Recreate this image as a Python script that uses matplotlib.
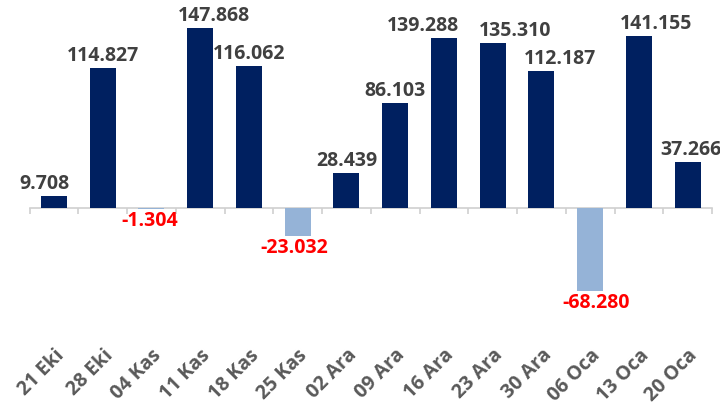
import matplotlib
matplotlib.use("Agg")
import matplotlib.pyplot as plt
import numpy as np

categories = ["21 Eki", "28 Eki", "04 Kas", "11 Kas", "18 Kas", "25 Kas", "02 Ara",
              "09 Ara", "16 Ara", "23 Ara", "30 Ara", "06 Oca", "13 Oca", "20 Oca"]
values = [9708, 114827, -1304, 147868, 116062, -23032, 28439,
          86103, 139288, 135310, 112187, -68280, 141155, 37266]
# horizontal nudges of the value labels (pixels), as placed in the original
label_dx = [-9, 0, -2, 14, 0, -3, 0, 0, -21, 22, 19, 6, 17, 3]

plt.rcParams['font.family'] = ['Open Sans', 'DejaVu Sans']

fig = plt.figure(figsize=(7.2, 4.15), dpi=100)
ax = fig.add_axes([29.5/720, 0.2733, (712-29.5)/720, 0.6954])

x = np.arange(len(categories))
colors = ['#002060' if v >= 0 else '#95B3D7' for v in values]
ax.bar(x, values, width=0.53, color=colors, zorder=3)

ax.set_xlim(-0.5, len(categories) - 0.5)
ax.set_ylim(-77000, 160000)

def fmt(v):
    s = f"{abs(v):,}".replace(",", ".")
    return ("-" if v < 0 else "") + s

px = 0.72  # points per pixel at 100 dpi
for xi, v, dx in zip(x, values, label_dx):
    if v >= 0:
        ax.annotate(fmt(v), (xi, v), xytext=(dx * px, 7 * px), textcoords='offset points',
                    ha='center', va='baseline', fontsize=14, fontweight='bold',
                    color='#404040', annotation_clip=False)
    else:
        ax.annotate(fmt(v), (xi, v), xytext=(dx * px, -2 * px), textcoords='offset points',
                    ha='center', va='top', fontsize=14, fontweight='bold',
                    color='#FF0000', annotation_clip=False)

for s in ['top', 'right', 'left']:
    ax.spines[s].set_visible(False)
ax.spines['bottom'].set_position(('data', 0))
ax.spines['bottom'].set_color('#D0D0D0')
ax.spines['bottom'].set_linewidth(1.2)
ax.set_yticks([])

ax.set_xticks(x)
ax.set_xticklabels(categories, rotation=45, ha='right', va='top',
                   rotation_mode='anchor', fontsize=14, fontweight='bold',
                   color='#595959')
ax.tick_params(axis='x', which='major', length=0, pad=99)
ax.set_xticks(np.arange(-0.5, len(categories), 1.0), minor=True)
ax.tick_params(axis='x', which='minor', length=4.5, color='#D0D0D0', width=1.2)

fig.savefig("out.png", dpi=100)
